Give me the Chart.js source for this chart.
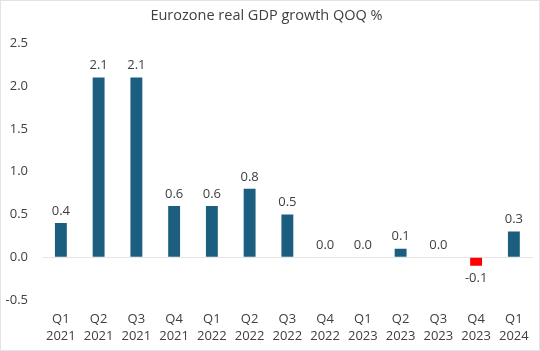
<!DOCTYPE html>
<html>
<head>
<meta charset="utf-8">
<script src="https://cdn.jsdelivr.net/npm/chart.js@4"></script>
<style>
  html, body { margin: 0; padding: 0; background: #fff; }
  #wrap { width: 540px; height: 351px; }
</style>
</head>
<body>
<div id="wrap"><canvas id="myChart" width="540" height="351"></canvas></div>
<script>
const quarters = ['Q1', 'Q2', 'Q3', 'Q4', 'Q1', 'Q2', 'Q3', 'Q4', 'Q1', 'Q2', 'Q3', 'Q4', 'Q1'];
const years = ['2021', '2021', '2021', '2021', '2022', '2022', '2022', '2022', '2023', '2023', '2023', '2023', '2024'];
const growth = [0.4, 2.1, 2.1, 0.6, 0.6, 0.8, 0.5, 0.0, 0.0, 0.1, 0.0, -0.1, 0.3];
const yTicks = [-0.5, 0.0, 0.5, 1.0, 1.5, 2.0, 2.5];

const labels = quarters.map((q, i) => [q, years[i]]);
const txt = '#404040';
const font = 'Open Sans';

// white background + thin frame
const frame = {
    id: 'frame',
    beforeDraw(chart) {
        const c = chart.ctx;
        c.save();
        c.fillStyle = '#fff';
        c.fillRect(0, 0, chart.width, chart.height);
        c.strokeStyle = '#e3e3e3';
        c.lineWidth = 1;
        c.strokeRect(0.5, 0.5, chart.width - 1, chart.height - 1);
        c.restore();
    }
};

// value labels on the bars
const valueLabels = {
    id: 'valueLabels',
    afterDatasetsDraw(chart) {
        const c = chart.ctx;
        const meta = chart.getDatasetMeta(0);
        c.save();
        c.font = '13px "' + font + '"';
        c.fillStyle = txt;
        c.textAlign = 'center';
        c.textBaseline = 'middle';
        meta.data.forEach((bar, i) => {
            const v = growth[i];
            const y = v < 0 ? bar.y + 13 : bar.y - 12;
            c.fillText(v.toFixed(1), bar.x, y);
        });
        c.restore();
    }
};

new Chart(document.getElementById('myChart'), {
    type: 'bar',
    data: {
        labels: labels,
        datasets: [{
            data: growth,
            backgroundColor: growth.map(v => v < 0 ? '#ff0000' : '#1b5e7f'),
            barPercentage: 0.45,
            categoryPercentage: 0.7
        }]
    },
    options: {
        responsive: false,
        animation: false,
        layout: { padding: { left: 0, right: 7, top: 0, bottom: 0 } },
        plugins: {
            legend: { display: false },
            tooltip: { enabled: false },
            title: {
                display: true,
                text: 'Eurozone real GDP growth QOQ %',
                color: txt,
                font: { family: font, size: 14.5, weight: 'normal' },
                padding: { top: 7, bottom: 19 }
            }
        },
        scales: {
            x: {
                afterFit(axis) { axis.height = 51; },
                grid: { display: false, drawTicks: false },
                border: { display: false },
                ticks: {
                    color: txt,
                    font: { family: font, size: 13, lineHeight: 1.3 },
                    maxRotation: 0,
                    autoSkip: false,
                    padding: 11
                }
            },
            y: {
                min: -0.5,
                max: 2.5,
                afterBuildTicks(axis) {
                    axis.ticks = yTicks.map(v => ({ value: v }));
                },
                afterFit(axis) { axis.width = 42; },
                border: { display: false },
                grid: {
                    color: ctx => ctx.tick && ctx.tick.value === 0 ? '#e6e6e6' : 'rgba(0,0,0,0)',
                    drawTicks: false
                },
                ticks: {
                    color: txt,
                    font: { family: font, size: 13 },
                    padding: 14,
                    callback: v => Number(v).toFixed(1)
                }
            }
        }
    },
    plugins: [frame, valueLabels]
});
</script>
</body>
</html>
